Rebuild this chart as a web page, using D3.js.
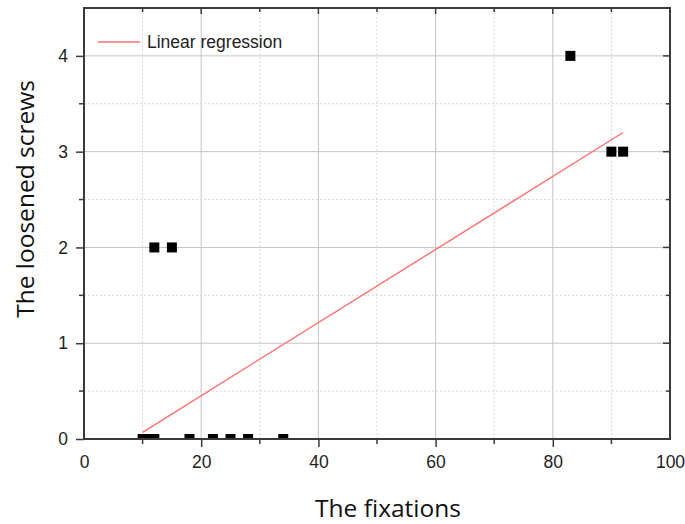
<!DOCTYPE html>
<html>
<head>
<meta charset="utf-8">
<script src="https://cdn.jsdelivr.net/npm/d3@7"></script>
<style>
  body { margin: 0; background: #fff; }
  svg { display: block; }
</style>
</head>
<body>
<div id="chart"></div>
<script>
// datos
const fixations = [10, 11, 12, 18, 22, 25, 28, 34, 12, 15, 83, 90, 92];
const screws    = [0, 0, 0, 0, 0, 0, 0, 0, 2, 2, 4, 3, 3];
// recta de regresion (extremos)
const regX = [10, 92];
const regY = [0.07, 3.2];
const xTicks = [0, 20, 40, 60, 80, 100];
const xMinor = [10, 30, 50, 70, 90];
const yTicks = [0, 1, 2, 3, 4];
const yMinor = [0.5, 1.5, 2.5, 3.5];

const width = 685;
const height = 524;
const margin = { top: 8, right: 15, bottom: 85, left: 84 };

const svg = d3.select("#chart").append("svg")
    .attr("width", width)
    .attr("height", height);

const x = d3.scaleLinear([0, 100], [margin.left, width - margin.right]);
const y = d3.scaleLinear([0, 4.5], [height - margin.bottom, margin.top]);

const tickFont = "'Liberation Sans', Arial, sans-serif";
const axisColor = "#3a3a3a";

// rejilla
const grid = svg.append("g");
grid.selectAll(".vmaj").data(xTicks.slice(1, -1)).join("line")
    .attr("x1", d => x(d)).attr("x2", d => x(d))
    .attr("y1", y(0)).attr("y2", y(4.5))
    .attr("stroke", "#c4c4c4").attr("stroke-width", 1);
grid.selectAll(".vmin").data(xMinor).join("line")
    .attr("x1", d => x(d)).attr("x2", d => x(d))
    .attr("y1", y(0)).attr("y2", y(4.5))
    .attr("stroke", "#d8d8d8").attr("stroke-dasharray", "2,2");
grid.selectAll(".hmaj").data(yTicks.slice(1)).join("line")
    .attr("x1", x(0)).attr("x2", x(100))
    .attr("y1", d => y(d)).attr("y2", d => y(d))
    .attr("stroke", "#c4c4c4").attr("stroke-width", 1);
grid.selectAll(".hmin").data(yMinor).join("line")
    .attr("x1", x(0)).attr("x2", x(100))
    .attr("y1", d => y(d)).attr("y2", d => y(d))
    .attr("stroke", "#d8d8d8").attr("stroke-dasharray", "2,2");

// clip del area de trazado
svg.append("clipPath").attr("id", "plot")
  .append("rect")
    .attr("x", x(0)).attr("y", y(4.5))
    .attr("width", x(100) - x(0)).attr("height", y(0) - y(4.5));

// recta de regresion
svg.append("line")
    .attr("x1", x(regX[0])).attr("y1", y(regY[0]))
    .attr("x2", x(regX[1])).attr("y2", y(regY[1]))
    .attr("stroke", "#ff6f6f")
    .attr("stroke-width", 1.4);

// puntos
const sz = 10;
svg.append("g").attr("clip-path", "url(#plot)")
  .selectAll("rect").data(fixations).join("rect")
    .attr("x", d => x(d) - sz / 2)
    .attr("y", (d, i) => y(screws[i]) - sz / 2)
    .attr("width", sz).attr("height", sz)
    .attr("fill", "#000");

// ejes
const xAxis = svg.append("g")
    .attr("transform", `translate(0,${y(0)})`)
    .call(d3.axisBottom(x).tickValues(xTicks).tickSize(8).tickPadding(9).tickFormat(d3.format("d")));
xAxis.selectAll(".tick").filter(d => d === 0 || d === 100).select("line").remove();
xAxis.append("g").selectAll("line").data(xMinor).join("line")
    .attr("x1", d => x(d)).attr("x2", d => x(d))
    .attr("y1", 0).attr("y2", 5)
    .attr("stroke", axisColor).attr("stroke-width", 1.5);

const yAxis = svg.append("g")
    .attr("transform", `translate(${x(0)},0)`)
    .call(d3.axisLeft(y).tickValues(yTicks).tickSize(8).tickPadding(8).tickFormat(d3.format("d")));
yAxis.append("g").selectAll("line").data(yMinor).join("line")
    .attr("y1", d => y(d)).attr("y2", d => y(d))
    .attr("x1", 0).attr("x2", -5)
    .attr("stroke", axisColor).attr("stroke-width", 1.5);

[xAxis, yAxis].forEach(g => {
  g.select(".domain").remove();
  g.selectAll(".tick line").attr("stroke", axisColor).attr("stroke-width", 1.5);
  g.selectAll("text")
    .attr("font-family", tickFont)
    .attr("font-size", 17.5)
    .attr("fill", "#222");
});

// ticks interiores arriba y a la derecha
const inner = svg.append("g").attr("stroke", axisColor).attr("stroke-width", 1.5);
inner.selectAll(".tt").data(xTicks.slice(1, -1).concat(xMinor)).join("line")
    .attr("x1", d => x(d)).attr("x2", d => x(d))
    .attr("y1", y(4.5)).attr("y2", d => y(4.5) + (xTicks.includes(d) ? 6 : 4));
inner.selectAll(".rt").data(yTicks.slice(1).concat(yMinor)).join("line")
    .attr("y1", d => y(d)).attr("y2", d => y(d))
    .attr("x1", x(100)).attr("x2", d => x(100) - (yTicks.includes(d) ? 7 : 4));

// marco
svg.append("rect")
    .attr("x", x(0)).attr("y", y(4.5))
    .attr("width", x(100) - x(0)).attr("height", y(0) - y(4.5))
    .attr("fill", "none")
    .attr("stroke", axisColor)
    .attr("stroke-width", 2);

// leyenda
const legend = svg.append("g").attr("transform", `translate(98,42)`);
legend.append("line")
    .attr("x1", 0).attr("x2", 42)
    .attr("stroke", "#ff6f6f").attr("stroke-width", 1.4);
legend.append("text")
    .attr("x", 49).attr("y", 6)
    .attr("font-family", tickFont)
    .attr("font-size", 17.5)
    .attr("fill", "#222")
    .text("Linear regression");

// titulos de los ejes
svg.append("text")
    .attr("x", 388).attr("y", 517)
    .attr("text-anchor", "middle")
    .attr("font-family", "'Open Sans', sans-serif")
    .attr("font-size", 24.5)
    .attr("fill", "#111")
    .text("The fixations");

svg.append("text")
    .attr("transform", "translate(34,199) rotate(-90)")
    .attr("text-anchor", "middle")
    .attr("font-family", "'Open Sans', sans-serif")
    .attr("font-size", 24.5)
    .attr("fill", "#111")
    .text("The loosened screws");
</script>
</body>
</html>
